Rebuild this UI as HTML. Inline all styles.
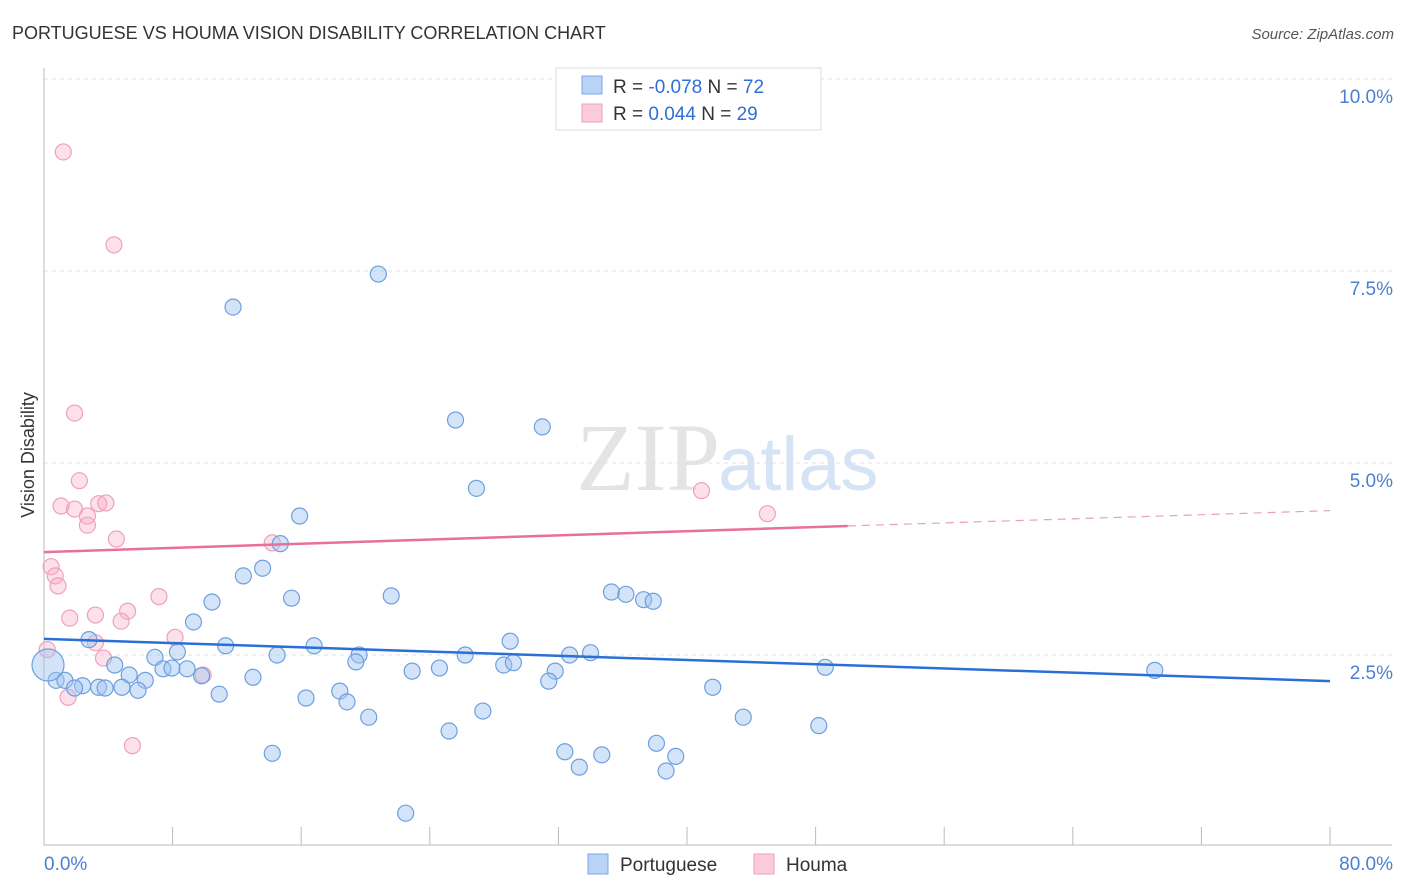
<!DOCTYPE html>
<html><head><meta charset="utf-8"><style>
body{margin:0;background:#fff;font-family:"Liberation Sans",sans-serif;}
svg{display:block}
</style></head><body>
<svg width="1406" height="892" id="c">
<text x="12" y="39" font-size="18" fill="#333">PORTUGUESE VS HOUMA VISION DISABILITY CORRELATION CHART</text>
<text x="1394" y="39" font-size="15" fill="#555" font-style="italic" text-anchor="end">Source: ZipAtlas.com</text>
<text x="720" y="490" font-size="96" fill="#e4e4e4" text-anchor="end" font-family="Liberation Serif">ZIP</text>
<text x="718" y="490" font-size="76" fill="#d5e3f5">atlas</text>
<text x="34" y="455" font-size="18" fill="#333" text-anchor="middle" transform="rotate(-90 34 455)">Vision Disability</text>
<g id="grid"></g><g id="pts"></g><g id="lines"></g>
<g>
<rect x="556" y="68" width="265" height="62" fill="#fff" stroke="#ddd"/>
<rect x="582" y="76" width="20" height="18" fill="#b8d3f5" stroke="#7aaae8"/>
<rect x="582" y="104" width="20" height="18" fill="#fbcbd9" stroke="#f0a0bb"/>
<text x="613" y="93" font-size="19" fill="#333">R = <tspan fill="#2f6fd6">-0.078</tspan>   N = <tspan fill="#2f6fd6">72</tspan></text>
<text x="613" y="120" font-size="19" fill="#333">R =  <tspan fill="#2f6fd6">0.044</tspan>   N = <tspan fill="#2f6fd6">29</tspan></text>
</g>
<g>
<rect x="588" y="854" width="20" height="20" fill="#b8d3f5" stroke="#7aaae8"/>
<text x="620" y="871" font-size="19" fill="#333">Portuguese</text>
<rect x="754" y="854" width="20" height="20" fill="#fbcbd9" stroke="#f0a0bb"/>
<text x="786" y="871" font-size="19" fill="#333">Houma</text>
</g>
</svg>
<script>
const blueX=[20.8,11.76,25.6,31.0,26.9,15.9,14.7,13.6,12.4,10.45,15.4,21.6,35.3,36.2,37.3,37.9,9.3,2.8,11.3,16.8,29.0,8.3,6.9,14.5,19.6,26.2,32.7,34.0,19.4,4.4,28.6,29.2,48.6,69.1,7.4,7.96,8.9,22.9,24.6,31.8,5.3,13.0,9.8,6.3,0.75,1.3,31.4,2.4,1.9,3.4,3.8,4.85,5.85,41.6,18.4,10.9,16.3,18.85,27.3,20.2,43.5,48.2,25.2,38.1,14.2,32.4,34.7,39.3,33.3,38.7,22.5,0.25];
const blueY=[7.46,7.03,5.56,5.47,4.67,4.31,3.95,3.63,3.53,3.19,3.24,3.27,3.32,3.29,3.22,3.20,2.93,2.70,2.62,2.62,2.68,2.54,2.47,2.5,2.5,2.5,2.5,2.53,2.41,2.37,2.37,2.40,2.34,2.30,2.32,2.33,2.32,2.29,2.33,2.29,2.24,2.21,2.23,2.17,2.17,2.17,2.16,2.10,2.07,2.08,2.07,2.08,2.04,2.08,2.03,1.99,1.94,1.89,1.77,1.69,1.69,1.58,1.51,1.35,1.22,1.24,1.20,1.18,1.04,0.99,0.44,2.37];
const pinkX=[1.2,4.35,1.9,2.2,1.06,1.9,2.7,3.4,3.85,2.7,4.5,14.2,40.9,45.0,0.44,0.7,0.87,7.15,5.2,3.2,1.6,4.8,8.15,3.2,3.7,9.9,1.5,5.5,0.2];
const pinkY=[9.05,7.84,5.65,4.77,4.44,4.40,4.31,4.47,4.48,4.19,4.01,3.96,4.64,4.34,3.65,3.53,3.40,3.26,3.07,3.02,2.98,2.94,2.73,2.66,2.46,2.24,1.95,1.32,2.57];
const yTicks=[2.5,5.0,7.5,10.0];
const yTickLabels=["2.5%","5.0%","7.5%","10.0%"];
const blueTrend=[2.71,2.16];
const pinkTrend=[3.84,4.18,4.38];
const pinkTrendX=[0,50,80];
const sx=v=>44+v/80*1286, sy=v=>847-v/2.5*192;
const NS="http://www.w3.org/2000/svg";
function mk(t,a,p){const e=document.createElementNS(NS,t);for(const k in a)e.setAttribute(k,a[k]);p.appendChild(e);return e;}
const g=document.getElementById('grid');
yTicks.forEach((t,i)=>{
 const l=mk('line',{x1:44,x2:1392,y1:sy(t),y2:sy(t),stroke:'#e2e2e2','stroke-dasharray':'4 4'},g);
 
 
 const tx=mk('text',{x:1393,y:sy(t)+24,'font-size':19,fill:'#4a7fd4','text-anchor':'end'},g);
 tx.textContent=yTickLabels[i];
 
 
});
const ax=mk('line',{x1:44,x2:1392,y1:845,y2:845,stroke:'#bbb'},g);


const ay=mk('line',{x1:44,x2:44,y1:68,y2:845,stroke:'#bbb'},g);


for(let i=0;i<=10;i++){const t=mk('line',{x1:sx(i*8),x2:sx(i*8),y1:827,y2:845,stroke:'#bbb'},g);
 
 }
const x0=mk('text',{x:44,y:870,'font-size':19,fill:'#4a7fd4'},g);x0.textContent='0.0%';


const x1=mk('text',{x:1393,y:870,'font-size':19,fill:'#4a7fd4','text-anchor':'end'},g);x1.textContent='80.0%';


const p=document.getElementById('pts');
pinkX.forEach((x,i)=>{const c=mk('circle',{cx:sx(x),cy:sy(pinkY[i]),r:8,fill:'rgba(245,170,195,0.35)',stroke:'#f0a0bb','stroke-width':1.2},p);
 
 });
blueX.forEach((x,i)=>{const c=mk('circle',{cx:sx(x),cy:sy(blueY[i]),r:i==blueX.length-1?16:8,fill:'rgba(160,195,240,0.45)',stroke:'#6d9fe0','stroke-width':1.2},p);
 
 });
const L=document.getElementById('lines');
const bl=mk('line',{x1:sx(0),y1:sy(blueTrend[0]),x2:sx(80),y2:sy(blueTrend[1]),stroke:'#2a6fd6','stroke-width':2.5},L);


const pl=mk('line',{x1:sx(pinkTrendX[0]),y1:sy(pinkTrend[0]),x2:sx(pinkTrendX[1]),y2:sy(pinkTrend[1]),stroke:'#e8709a','stroke-width':2.5},L);


const pd=mk('line',{x1:sx(pinkTrendX[1]),y1:sy(pinkTrend[1]),x2:sx(pinkTrendX[2]),y2:sy(pinkTrend[2]),stroke:'#e8a0b8','stroke-width':1.2,'stroke-dasharray':'8 6'},L);


</script>
</body></html>
